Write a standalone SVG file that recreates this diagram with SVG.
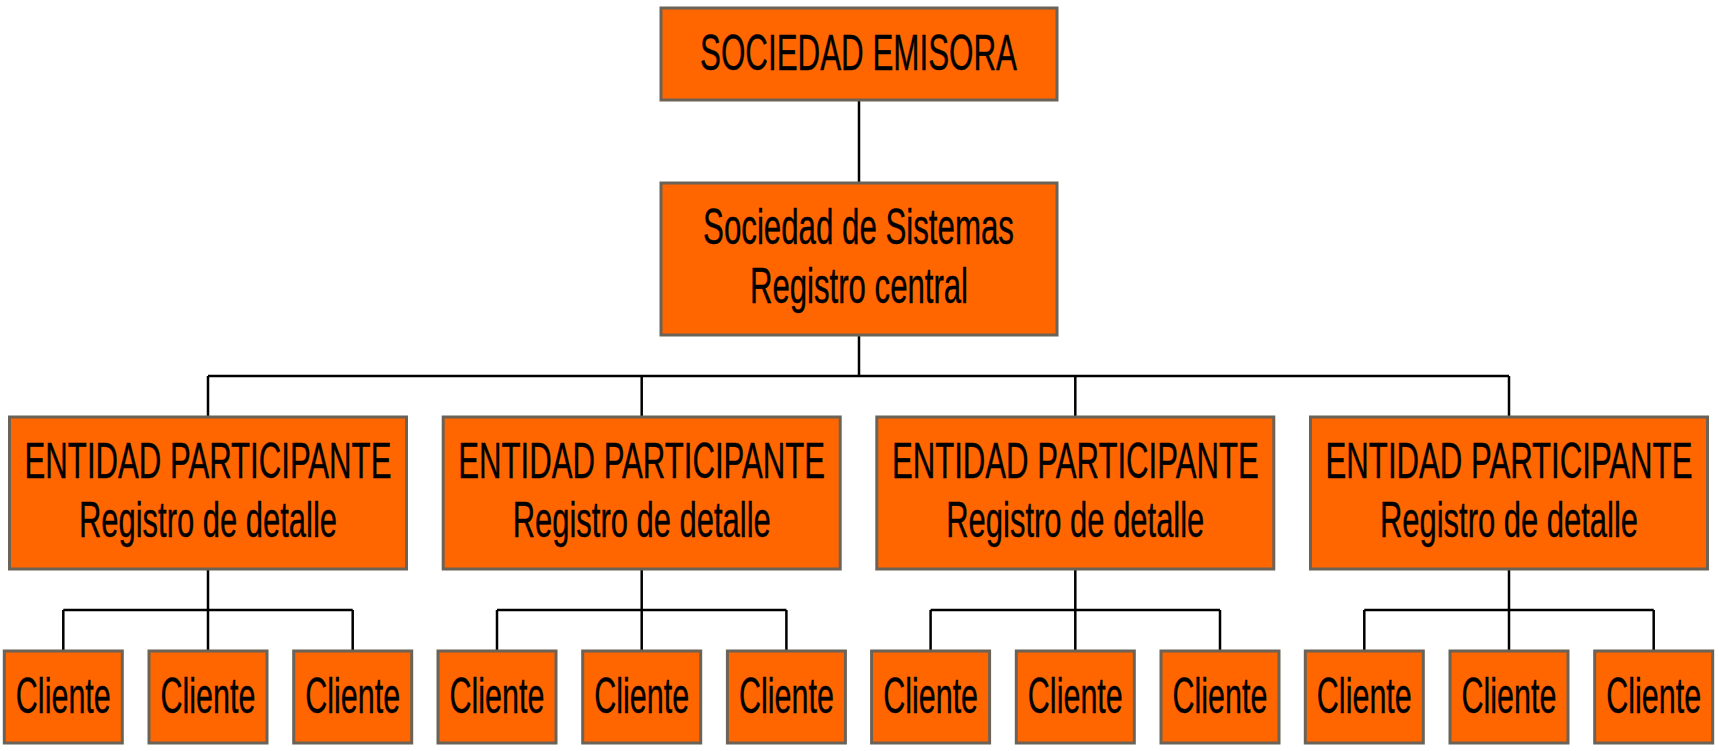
<svg xmlns="http://www.w3.org/2000/svg" width="1719" height="751" viewBox="0 0 1719 751">
<style>
.box{fill:#ff6600;stroke:#6b6357;stroke-width:3}
.t{font-family:"Liberation Sans",Arial,sans-serif;font-size:50px;fill:#000;stroke:#000;stroke-width:0.4;text-anchor:middle}
.c{stroke:#000;stroke-width:2.5;fill:none}
</style>
<rect width="1719" height="751" fill="#fff"/>
<g id="connectors">
<path class="c" d="M859 100V183M859 335V376M208 376H1509M208 376V417M641.7 376V417M1075.3 376V417M1509 376V417"/>
<path class="c" d="M208 569V651M63.3 610H352.7M63.3 610V651M352.7 610V651"/>
<path class="c" d="M641.7 569V651M497 610H786.4M497 610V651M786.4 610V651"/>
<path class="c" d="M1075.3 569V651M930.6 610H1220M930.6 610V651M1220 610V651"/>
<path class="c" d="M1509 569V651M1364.3 610H1653.7M1364.3 610V651M1653.7 610V651"/>
</g>
<g id="emisora"><rect class="box" x="661" y="8" width="396" height="92"/><text class="t" transform="translate(858.5 70) scale(0.627 1)">SOCIEDAD EMISORA</text></g>
<g id="sistemas"><rect class="box" x="661" y="183" width="396" height="152"/><text class="t" transform="translate(858.5 244) scale(0.625 1)">Sociedad de Sistemas</text><text class="t" transform="translate(859 303) scale(0.623 1)">Registro central</text></g>
<g id="entidad1"><rect class="box" x="9.5" y="417" width="397" height="152"/><text class="t" transform="translate(208 478) scale(0.623 1)">ENTIDAD PARTICIPANTE</text><text class="t" transform="translate(208 537) scale(0.619 1)">Registro de detalle</text></g>
<g id="entidad2"><rect class="box" x="443.2" y="417" width="397" height="152"/><text class="t" transform="translate(641.7 478) scale(0.623 1)">ENTIDAD PARTICIPANTE</text><text class="t" transform="translate(641.7 537) scale(0.619 1)">Registro de detalle</text></g>
<g id="entidad3"><rect class="box" x="876.8" y="417" width="397" height="152"/><text class="t" transform="translate(1075.3 478) scale(0.623 1)">ENTIDAD PARTICIPANTE</text><text class="t" transform="translate(1075.3 537) scale(0.619 1)">Registro de detalle</text></g>
<g id="entidad4"><rect class="box" x="1310.5" y="417" width="397" height="152"/><text class="t" transform="translate(1509 478) scale(0.623 1)">ENTIDAD PARTICIPANTE</text><text class="t" transform="translate(1509 537) scale(0.619 1)">Registro de detalle</text></g>
<g id="cliente1"><rect class="box" x="4.3" y="651" width="118" height="92"/><text class="t" transform="translate(63.3 713) scale(0.61 1)">Cliente</text></g>
<g id="cliente2"><rect class="box" x="149" y="651" width="118" height="92"/><text class="t" transform="translate(208 713) scale(0.61 1)">Cliente</text></g>
<g id="cliente3"><rect class="box" x="293.7" y="651" width="118" height="92"/><text class="t" transform="translate(352.7 713) scale(0.61 1)">Cliente</text></g>
<g id="cliente4"><rect class="box" x="438" y="651" width="118" height="92"/><text class="t" transform="translate(497 713) scale(0.61 1)">Cliente</text></g>
<g id="cliente5"><rect class="box" x="582.7" y="651" width="118" height="92"/><text class="t" transform="translate(641.7 713) scale(0.61 1)">Cliente</text></g>
<g id="cliente6"><rect class="box" x="727.4" y="651" width="118" height="92"/><text class="t" transform="translate(786.4 713) scale(0.61 1)">Cliente</text></g>
<g id="cliente7"><rect class="box" x="871.6" y="651" width="118" height="92"/><text class="t" transform="translate(930.6 713) scale(0.61 1)">Cliente</text></g>
<g id="cliente8"><rect class="box" x="1016.3" y="651" width="118" height="92"/><text class="t" transform="translate(1075.3 713) scale(0.61 1)">Cliente</text></g>
<g id="cliente9"><rect class="box" x="1161" y="651" width="118" height="92"/><text class="t" transform="translate(1220 713) scale(0.61 1)">Cliente</text></g>
<g id="cliente10"><rect class="box" x="1305.3" y="651" width="118" height="92"/><text class="t" transform="translate(1364.3 713) scale(0.61 1)">Cliente</text></g>
<g id="cliente11"><rect class="box" x="1450" y="651" width="118" height="92"/><text class="t" transform="translate(1509 713) scale(0.61 1)">Cliente</text></g>
<g id="cliente12"><rect class="box" x="1594.7" y="651" width="118" height="92"/><text class="t" transform="translate(1653.7 713) scale(0.61 1)">Cliente</text></g>
</svg>
